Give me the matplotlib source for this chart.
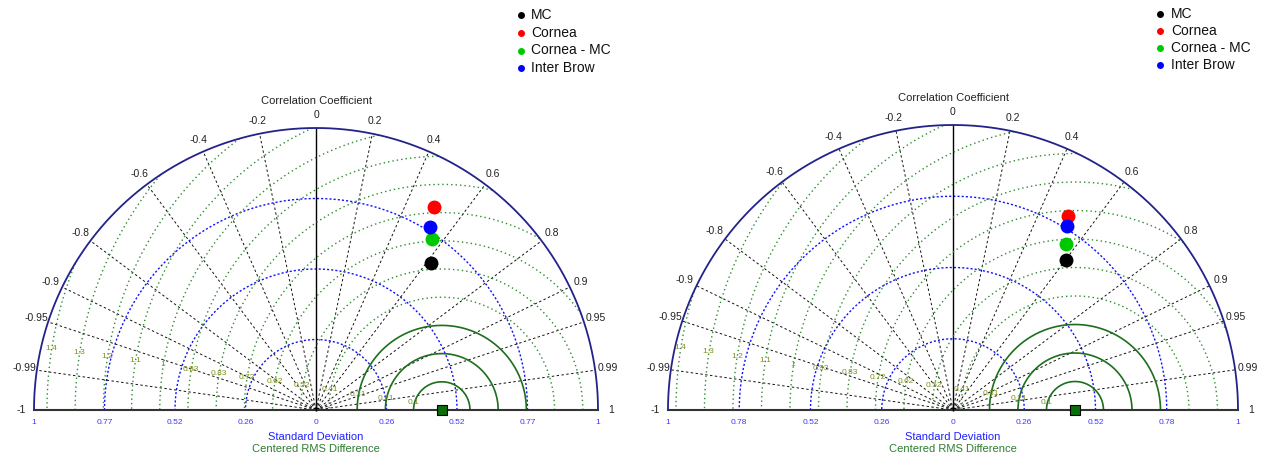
import numpy as np
import matplotlib
matplotlib.use("Agg")
import matplotlib.pyplot as plt

plt.rcParams['font.family'] = ['Liberation Sans', 'DejaVu Sans']

# ---------------- data ----------------
series_names = ['MC', 'Cornea', 'Cornea - MC', 'Inter Brow']
series_colors = ['#000000', '#ff0000', '#00c800', '#0000ff']

# left diagram (std normalised to axis max)
left_std = [0.661, 0.832, 0.732, 0.764]
left_corr = [0.617, 0.504, 0.560, 0.529]
left_ref_std = 0.446
left_std_ticks = ['1', '0.77', '0.52', '0.26', '0', '0.26', '0.52', '0.77', '1']

# right diagram
right_std = [0.658, 0.792, 0.703, 0.760]
right_corr = [0.601, 0.508, 0.562, 0.525]
right_ref_std = 0.428
right_std_ticks = ['1', '0.78', '0.52', '0.26', '0', '0.26', '0.52', '0.78', '1']

corr_ticks = [-1, -0.99, -0.95, -0.9, -0.8, -0.6, -0.4, -0.2, 0,
              0.2, 0.4, 0.6, 0.8, 0.9, 0.95, 0.99, 1]
rms_labels = ['0.1', '0.21', '0.31', '0.41', '0.52', '0.62', '0.72',
              '0.83', '0.93', '1', '1.1', '1.2', '1.3', '1.4']

W, H = 1268, 455
fig = plt.figure(figsize=(W / 100, H / 100), dpi=100)


def taylor(ax, stds, corrs, ref, std_ticks):
    ax.set_axis_off()
    t = np.linspace(0, np.pi, 720)
    # outer circle
    ax.plot(np.cos(t), np.sin(t), color='#22228a', lw=1.3, zorder=3)
    # std arcs
    for r in [0.25, 0.5, 0.75]:
        ax.plot(r * np.cos(t), r * np.sin(t), color='#1010ff', lw=1.0,
                ls=(0, (1.5, 1.5)), zorder=2)
    # correlation lines
    for c in corr_ticks:
        th = np.arccos(c)
        if c in (-1, 1):
            pass
        elif c == 0:
            ax.plot([0, 0], [0, 1], color='black', lw=1.0, zorder=2)
        else:
            ax.plot([0, np.cos(th)], [0, np.sin(th)], color='#111111', lw=0.7,
                    ls=(0, (2.5, 2.5)), zorder=2)
        lab = '%g' % c
        ax.text(1.045 * np.cos(th), 1.045 * np.sin(th), lab, fontsize=7.5,
                ha='center', va='center', color='#222222')
    # baseline
    ax.plot([-1, 1], [0, 0], color='#333333', lw=1.5, zorder=3)
    ax.plot([0], [0.006], marker='+', color='black', ms=5, mew=1, zorder=4)
    # RMS circles
    la = np.deg2rad(171.5)
    for k, lab in enumerate(rms_labels):
        r = 0.1 * (k + 1)
        x = ref + r * np.cos(t)
        y = r * np.sin(t)
        m = x ** 2 + y ** 2 > 1.0
        x = x.copy(); y = y.copy()
        x[m] = np.nan; y[m] = np.nan
        if k < 3:
            ax.plot(x, y, color='#1d6e1d', lw=1.2, zorder=2)
        else:
            ax.plot(x, y, color='#2e8b2e', lw=1.0, ls=(0, (1, 2.2)), zorder=2)
        ax.text(ref + r * np.cos(la), r * np.sin(la) + 0.012, lab, fontsize=6,
                ha='center', va='center', color='#7a8f1f', zorder=3)
    # std tick labels
    for xv, lab in zip(np.linspace(-1, 1, 9), std_ticks):
        ax.text(xv, -0.043, lab, fontsize=6, ha='center', va='center',
                color='#3a3aff')
    ax.text(0, -0.096, 'Standard Deviation', fontsize=8, ha='center',
            va='center', color='#2020ff')
    ax.text(0, -0.138, 'Centered RMS Difference', fontsize=8, ha='center',
            va='center', color='#2e7d32')
    ax.text(0, 1.096, 'Correlation Coefficient', fontsize=8, ha='center',
            va='center', color='#222222')
    # reference point
    ax.plot([ref], [0], marker='s', ms=6.5, color='#0a6e0a', mec='black',
            mew=0.8, zorder=5, clip_on=False)
    # data points
    for s, c, col in zip(stds, corrs, series_colors):
        ax.plot([s * c], [s * np.sqrt(1 - c ** 2)], marker='o', ms=9,
                color=col, mec=col, ls='none', zorder=6)


def make_axes(ox, oy, scale, left_px, right_px):
    ax = fig.add_axes([left_px / W, 0, (right_px - left_px) / W, 1])
    ax.set_xlim((left_px - ox) / scale, (right_px - ox) / scale)
    ax.set_ylim(-(H - oy) / scale, oy / scale)
    return ax


axL = make_axes(316, 410, 282, 0, 634)
taylor(axL, left_std, left_corr, left_ref_std, left_std_ticks)
axR = make_axes(953, 410, 285, 634, W)
taylor(axR, right_std, right_corr, right_ref_std, right_std_ticks)


def legend(mx, tx, ys):
    for name, col, y in zip(series_names, series_colors, ys):
        fig.lines.append(plt.Line2D([mx / W], [1 - y / H], marker='o', ms=4,
                                    color=col, mec=col, ls='none',
                                    transform=fig.transFigure))
        fig.text(tx / W, 1 - y / H, name, fontsize=10, ha='left', va='center',
                 color='#111111')


legend(520.5, 531, [15, 33, 50.5, 68])
legend(1160, 1171, [14, 31, 48, 65])

fig.savefig('out.png', dpi=100)
